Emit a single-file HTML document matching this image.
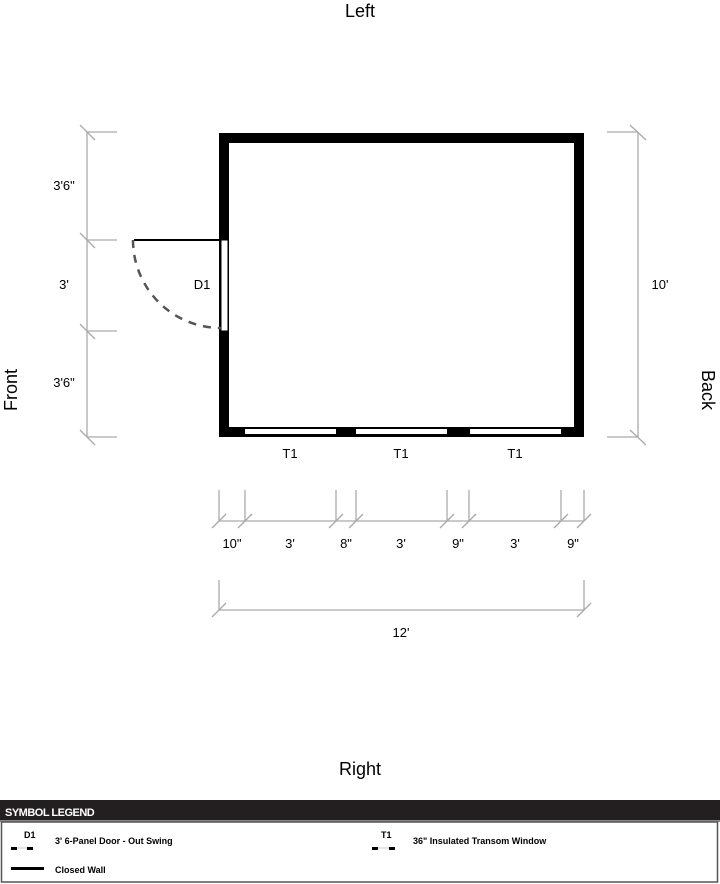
<!DOCTYPE html>
<html><head><meta charset="utf-8"><style>
html,body{margin:0;padding:0;background:#fff;width:720px;height:884px;overflow:hidden}
svg{display:block}
text{font-family:"Liberation Sans",sans-serif;}
</style></head><body>
<svg width="720" height="884" viewBox="0 0 720 884" xmlns="http://www.w3.org/2000/svg">
<text x="360" y="17" font-size="18" text-anchor="middle" fill="#000">Left</text>
<text x="360" y="775" font-size="18" text-anchor="middle" fill="#000">Right</text>
<text transform="translate(17,390) rotate(-90)" font-size="18" text-anchor="middle" fill="#000">Front</text>
<text transform="translate(702,390) rotate(90)" font-size="18" text-anchor="middle" fill="#000">Back</text>

<!-- building -->
<rect x="224" y="138" width="355" height="294" fill="none" stroke="#000" stroke-width="10"/>
<!-- door opening -->
<rect x="221" y="240" width="7" height="91" fill="#fff" stroke="#000" stroke-width="1"/>
<line x1="134" y1="240" x2="221" y2="240" stroke="#000" stroke-width="2"/>
<path d="M133 240 A88 88 0 0 0 221 328" fill="none" stroke="#555" stroke-width="2.5" stroke-dasharray="8,7"/>
<text x="202" y="289" font-size="13" text-anchor="middle">D1</text>
<!-- windows -->
<rect x="245" y="429" width="91" height="5" fill="#fff"/>
<rect x="356" y="429" width="91" height="5" fill="#fff"/>
<rect x="470" y="429" width="91" height="5" fill="#fff"/>
<text x="290" y="458" font-size="13" text-anchor="middle">T1</text>
<text x="401" y="458" font-size="13" text-anchor="middle">T1</text>
<text x="515" y="458" font-size="13" text-anchor="middle">T1</text>

<g stroke="#aaa" stroke-width="1.3" fill="none">
<!-- left dims -->
<line x1="87" y1="132" x2="87" y2="437"/>
<line x1="87" y1="132" x2="117" y2="132"/><line x1="80" y1="125" x2="95" y2="140"/>
<line x1="87" y1="240" x2="117" y2="240"/><line x1="80" y1="233" x2="95" y2="248"/>
<line x1="87" y1="331" x2="117" y2="331"/><line x1="80" y1="324" x2="95" y2="339"/>
<line x1="87" y1="437" x2="117" y2="437"/><line x1="80" y1="430" x2="95" y2="445"/>
<!-- right dim -->
<line x1="638" y1="132" x2="638" y2="437"/>
<line x1="607" y1="132" x2="638" y2="132"/><line x1="630" y1="125" x2="646" y2="140"/>
<line x1="607" y1="437" x2="638" y2="437"/><line x1="630" y1="430" x2="646" y2="445"/>
<!-- bottom dims -->
<line x1="219" y1="521" x2="584" y2="521"/>
<line x1="219" y1="490" x2="219" y2="521"/><line x1="212" y1="528" x2="226" y2="514"/>
<line x1="245" y1="490" x2="245" y2="521"/><line x1="238" y1="528" x2="252" y2="514"/>
<line x1="336" y1="490" x2="336" y2="521"/><line x1="329" y1="528" x2="343" y2="514"/>
<line x1="356" y1="490" x2="356" y2="521"/><line x1="349" y1="528" x2="363" y2="514"/>
<line x1="447" y1="490" x2="447" y2="521"/><line x1="440" y1="528" x2="454" y2="514"/>
<line x1="469" y1="490" x2="469" y2="521"/><line x1="462" y1="528" x2="476" y2="514"/>
<line x1="561" y1="490" x2="561" y2="521"/><line x1="554" y1="528" x2="568" y2="514"/>
<line x1="584" y1="490" x2="584" y2="521"/><line x1="577" y1="528" x2="591" y2="514"/>
<line x1="219" y1="610" x2="584" y2="610"/>
<line x1="219" y1="580" x2="219" y2="610"/><line x1="212" y1="617" x2="226" y2="603"/>
<line x1="584" y1="580" x2="584" y2="610"/><line x1="577" y1="617" x2="591" y2="603"/>
</g>
<g font-size="13" text-anchor="middle" fill="#000">
<text x="64" y="190">3'6"</text>
<text x="64" y="289">3'</text>
<text x="64" y="387">3'6"</text>
<text x="660" y="289">10'</text>
<text x="232" y="548">10"</text>
<text x="290" y="548">3'</text>
<text x="346" y="548">8"</text>
<text x="401" y="548">3'</text>
<text x="458" y="548">9"</text>
<text x="515" y="548">3'</text>
<text x="573" y="548">9"</text>
<text x="401" y="637">12'</text>
</g>

<!-- legend -->
<rect x="0" y="800" width="720" height="22" fill="#231f20"/>
<rect x="0" y="820" width="720" height="2" fill="#888"/>
<text x="5" y="816" font-size="11" font-weight="bold" fill="#fff" letter-spacing="-0.5">SYMBOL LEGEND</text>
<rect x="1.5" y="822" width="716" height="60" fill="none" stroke="#555" stroke-width="1.5"/>
<g font-size="9" font-weight="bold" fill="#000">
<text x="24" y="838">D1</text>
<text x="55" y="844">3' 6-Panel Door - Out Swing</text>
<text x="381" y="838">T1</text>
<text x="413" y="844">36" Insulated Transom Window</text>
<text x="55" y="873">Closed Wall</text>
</g>
<g fill="#000">
<rect x="11" y="847" width="6" height="3"/><rect x="27" y="847" width="6" height="3"/>
<rect x="372" y="847" width="6" height="3"/><rect x="389" y="847" width="6" height="3"/>
<rect x="11" y="867" width="33" height="3"/>
</g>
<g stroke="#ccc" stroke-width="1">
<line x1="17" y1="848" x2="27" y2="848"/><line x1="378" y1="848" x2="389" y2="848"/>
</g>
</svg>
</body></html>
